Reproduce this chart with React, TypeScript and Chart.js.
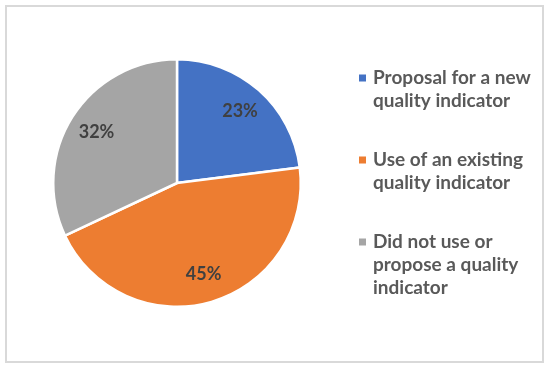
import React, { useEffect, useRef } from "react";
import { Chart, registerables } from "chart.js";

Chart.register(...registerables);

const categories: string[][] = [
  ["Proposal for a new", "quality indicator"],
  ["Use of an existing", "quality indicator"],
  ["Did not use or", "propose a quality", "indicator"],
];
const values: number[] = [23, 45, 32];
const colors: string[] = ["#4472C4", "#ED7D31", "#A5A5A5"];

const FONT = "Lato, 'Open Sans', sans-serif";

const framePlugin = {
  id: "frame",
  beforeDraw(chart: any) {
    const ctx = chart.ctx;
    ctx.save();
    ctx.fillStyle = "#ffffff";
    ctx.fillRect(0, 0, chart.width, chart.height);
    ctx.strokeStyle = "#d9d9d9";
    ctx.lineWidth = 2;
    ctx.strokeRect(6, 6, 537, 356);
    ctx.restore();
  },
};

const labelPlugin = {
  id: "sliceLabels",
  afterDatasetsDraw(chart: any) {
    const ctx = chart.ctx;
    const meta = chart.getDatasetMeta(0);
    const total = values.reduce((a, b) => a + b, 0);
    ctx.save();
    ctx.font = `bold 18px ${FONT}`;
    ctx.fillStyle = "#404040";
    ctx.textAlign = "center";
    ctx.textBaseline = "middle";
    meta.data.forEach((arc: any, i: number) => {
      const { x, y, startAngle, endAngle, outerRadius } = arc.getProps(
        ["x", "y", "startAngle", "endAngle", "outerRadius"],
        true
      );
      const mid = (startAngle + endAngle) / 2;
      const r = outerRadius * 0.77;
      const pct = Math.round((values[i] / total) * 100);
      ctx.fillText(pct + "%", x + Math.cos(mid) * r, y + Math.sin(mid) * r);
    });
    ctx.restore();
  },
};

const legendPlugin = {
  id: "wrapLegend",
  afterDraw(chart: any) {
    const ctx = chart.ctx;
    const groupTops = [78, 160, 242];
    const lineH = 23;
    ctx.save();
    ctx.font = `bold 19px ${FONT}`;
    ctx.textBaseline = "middle";
    ctx.textAlign = "left";
    categories.forEach((lines, i) => {
      const y0 = groupTops[i];
      ctx.fillStyle = colors[i];
      ctx.fillRect(359, y0 - 3.5, 7, 7);
      ctx.fillStyle = "#595959";
      lines.forEach((ln, j) => {
        ctx.fillText(ln, 373, y0 + j * lineH);
      });
    });
    ctx.restore();
  },
};

export default function App() {
  const ref = useRef<HTMLCanvasElement | null>(null);
  useEffect(() => {
    document.body.style.margin = "0";
    if (!ref.current) return;
    const chart = new Chart(ref.current, {
      type: "pie",
      data: {
        labels: categories.map((c) => c.join(" ")),
        datasets: [
          {
            data: values,
            backgroundColor: colors,
            borderColor: "#ffffff",
            borderWidth: 2.5,
          },
        ],
      },
      options: {
        responsive: false,
        animation: false,
        layout: { padding: { left: 52, right: 248, top: 58, bottom: 60 } },
        plugins: {
          legend: { display: false },
          tooltip: { enabled: false },
        },
      },
      plugins: [framePlugin, labelPlugin, legendPlugin],
    });
    return () => chart.destroy();
  }, []);
  return (
    <div style={{ position: "absolute", left: 0, top: 0, width: 550, height: 368 }}>
      <canvas ref={ref} width={550} height={368} style={{ width: 550, height: 368 }} />
    </div>
  );
}
